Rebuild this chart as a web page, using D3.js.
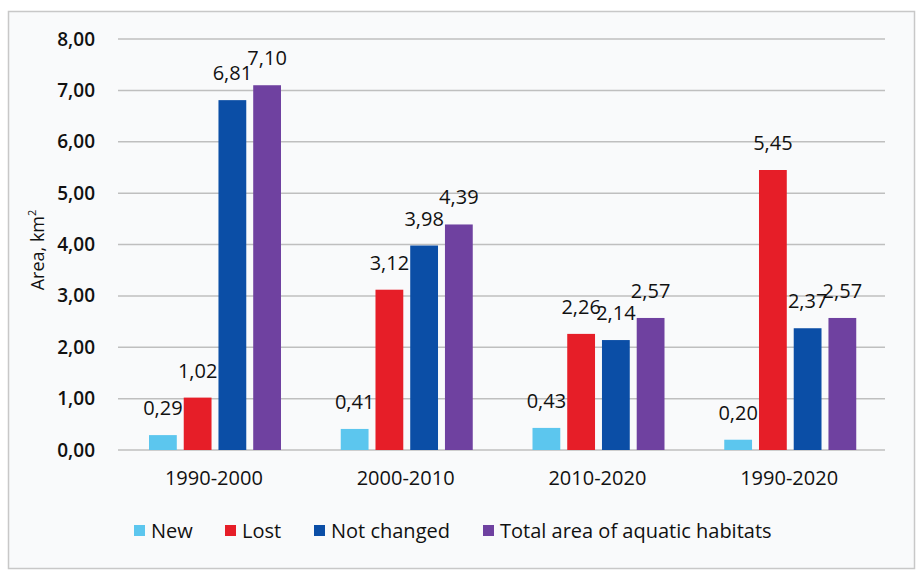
<!DOCTYPE html>
<html>
<head>
<meta charset="utf-8">
<script src="https://cdn.jsdelivr.net/npm/d3@7/dist/d3.min.js"></script>
<style>
  body { margin: 0; background: #fff; }
  #chart { width: 920px; height: 584px; }
  text { font-family: "Open Sans", "Noto Sans", sans-serif; fill: #111; }
</style>
</head>
<body>
<div id="chart"></div>
<script>
// 数据
const periods = ['1990-2000', '2000-2010', '2010-2020', '1990-2020']
const seriesNames = ['New', 'Lost', 'Not changed', 'Total area of aquatic habitats']
const newArea = [0.29, 0.41, 0.43, 0.20]
const lostArea = [1.02, 3.12, 2.26, 5.45]
const notChanged = [6.81, 3.98, 2.14, 2.37]
const totalArea = [7.10, 4.39, 2.57, 2.57]
const yTicks = [0, 1, 2, 3, 4, 5, 6, 7, 8]
const colors = ['#5cc6ee', '#e61e28', '#0b4ea6', '#6f41a0']

const W = 920
const H = 584
const svg = d3.select('#chart').append('svg')
  .attr('width', W)
  .attr('height', H)

// 外框
svg.append('rect')
  .attr('x', 8.5).attr('y', 11.5)
  .attr('width', 906).attr('height', 557)
  .attr('fill', '#f9fafb')
  .attr('stroke', '#c8c8c8')
  .attr('stroke-width', 1.5)

const margin = { left: 118, right: 35, top: 39, bottom: 134 }
const x = d3.scaleBand().domain(periods).range([margin.left, W - margin.right])
const inner = d3.scaleBand().domain(d3.range(4)).range([31, 192 - 29]).paddingInner(0.2)
const y = d3.scaleLinear().domain([0, 8]).range([H - margin.bottom, margin.top])

const fmt = v => v.toFixed(2).replace('.', ',')

// 网格线
svg.append('g').selectAll('line')
  .data(yTicks)
  .enter().append('line')
  .attr('x1', margin.left).attr('x2', W - margin.right)
  .attr('y1', d => y(d)).attr('y2', d => y(d))
  .attr('stroke', '#bfbfbf')
  .attr('stroke-width', 1.5)

// y轴
const yAxis = svg.append('g')
  .attr('transform', `translate(${margin.left - 20},0)`)
  .call(d3.axisLeft(y).tickValues(yTicks).tickFormat(fmt).tickSize(0))
yAxis.select('.domain').remove()
yAxis.selectAll('text')
  .attr('font-size', 19)
  .attr('font-weight', 600)
  .attr('font-family', '"Open Sans", sans-serif')
  .attr('fill', '#111')

// x轴
const xAxis = svg.append('g')
  .attr('transform', `translate(0,${y(0)})`)
  .call(d3.axisBottom(x).tickSize(0).tickPadding(21))
xAxis.select('.domain').remove()
xAxis.selectAll('text')
  .attr('font-size', 20)
  .attr('font-family', '"Open Sans", sans-serif')
  .attr('fill', '#111')

// y轴标题
const yt = svg.append('text')
  .attr('transform', 'translate(44,250) rotate(-90)')
  .attr('text-anchor', 'middle')
  .attr('font-size', 18)
yt.append('tspan').text('Area, km')
yt.append('tspan').text('2').attr('font-size', 11).attr('dy', -8)

// 柱子
const series = [newArea, lostArea, notChanged, totalArea]
const groups = svg.append('g').selectAll('.group')
  .data(periods)
  .enter().append('g')
  .attr('class', 'group')
  .attr('transform', d => `translate(${x(d)},0)`)

groups.each(function (p, pi) {
  const g = d3.select(this)
  series.forEach((s, si) => {
    const v = s[pi]
    g.append('rect')
      .attr('x', inner(si))
      .attr('width', inner.bandwidth())
      .attr('y', y(v))
      .attr('height', y(0) - y(v))
      .attr('fill', colors[si])
    g.append('text')
      .attr('x', inner(si) + inner.bandwidth() / 2)
      .attr('y', y(v) - 20)
      .attr('text-anchor', 'middle')
      .attr('font-size', 20)
      .text(fmt(v))
  })
})

// 图例
const legendX = [134, 225, 314, 483]
const legend = svg.append('g').selectAll('.legend')
  .data(seriesNames)
  .enter().append('g')
  .attr('class', 'legend')
  .attr('transform', (d, i) => `translate(${legendX[i]},531)`)
legend.append('rect')
  .attr('x', 0).attr('y', -6)
  .attr('width', 11).attr('height', 11)
  .attr('fill', (d, i) => colors[i])
legend.append('text')
  .attr('x', 17).attr('y', 0)
  .attr('dy', '0.35em')
  .attr('font-size', 20)
  .text(d => d)
</script>
</body>
</html>
